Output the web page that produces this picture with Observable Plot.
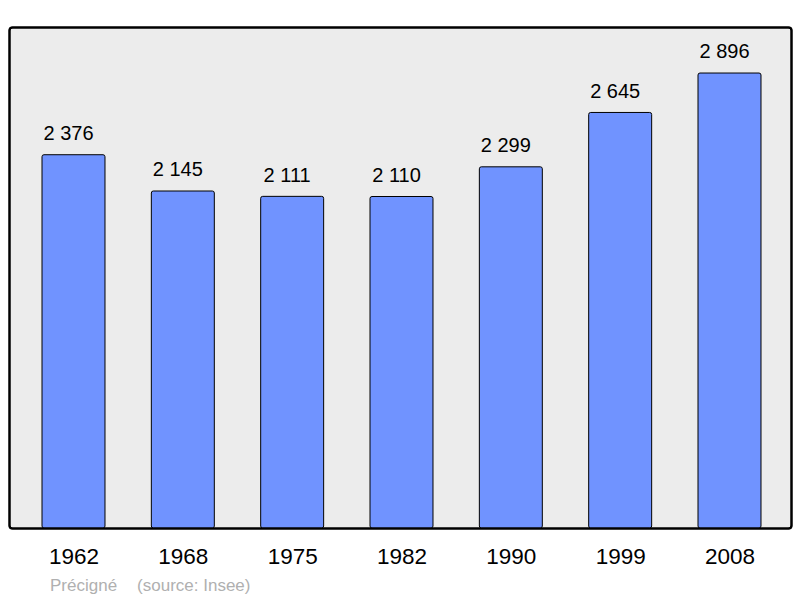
<!DOCTYPE html>
<html>
<head>
<meta charset="utf-8">
<script src="https://cdn.jsdelivr.net/npm/d3@7"></script>
<script src="https://cdn.jsdelivr.net/npm/@observablehq/plot@0.6"></script>
<style>
  body { margin: 0; background: #fff; font-family: "Liberation Sans", Arial, sans-serif; }
  #wrap { position: relative; width: 800px; height: 598px; }
  #caption { position: absolute; left: 50px; top: 576px; font-size: 17px; line-height: 20px; color: #b0b0b0; white-space: nowrap; }
  #caption span + span { margin-left: 20px; }
</style>
</head>
<body>
<div id="wrap">
  <div id="chart"></div>
  <div id="caption"><span>Précigné</span><span>(source: Insee)</span></div>
</div>
<script>
const years = ["1962", "1968", "1975", "1982", "1990", "1999", "2008"];
const population = [2376, 2145, 2111, 2110, 2299, 2645, 2896];

const data = years.map((y, i) => ({year: y, pop: population[i]}));
const fmt = v => d3.format(",")(v).replace(/,/g, " ");

const chart = Plot.plot({
  width: 800,
  height: 598,
  marginTop: 27,
  marginBottom: 70,
  marginLeft: 9,
  marginRight: 9,
  style: {fontFamily: '"Liberation Sans", Arial, sans-serif', background: "#fff"},
  x: {domain: years, range: [18.83, 784.17], paddingInner: 0.424, paddingOuter: 0.212, align: 0.5, round: false},
  y: {domain: [0, 3189], axis: null},
  marks: [
    Plot.frame({fill: "#ececec", stroke: "#000", strokeWidth: 2, rx: 3}),
    Plot.barY(data, {x: "year", y: "pop", fill: "#7093ff", stroke: "#000", strokeWidth: 1, rx: 2}),
    Plot.text(data, {x: "year", y: "pop", text: d => fmt(d.pop), dy: -21.5, dx: -5.5, fontSize: 20, fill: "#000"}),
    Plot.axisX({tickSize: 0, tickPadding: 20, fontSize: 22.5, color: "#000", label: null}),
    Plot.frame({stroke: "#000", strokeWidth: 2, rx: 3})
  ]
});
document.getElementById("chart").appendChild(chart);
</script>
</body>
</html>
